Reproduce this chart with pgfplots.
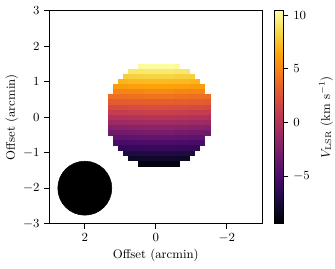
\documentclass[border=0pt]{standalone}
\usepackage{pgfplots}
\pgfplotsset{compat=1.18}
\pgfplotsset{colormap={inferno}{
 rgb255=(0,0,4) rgb255=(22,11,57) rgb255=(66,10,104) rgb255=(106,23,110)
 rgb255=(147,38,103) rgb255=(188,55,84) rgb255=(221,81,58) rgb255=(243,120,25)
 rgb255=(252,165,10) rgb255=(246,215,70) rgb255=(252,255,164)}}
\begin{document}
\begin{tikzpicture}
\begin{axis}[
 name=ax,
 scale only axis, width=2.13in, height=2.13in,
 xmin=-3, xmax=3, ymin=-3, ymax=3, x dir=reverse,
 xtick={-2,0,2}, ytick={-3,-2,-1,0,1,2,3},
 tick align=outside, xtick pos=bottom, ytick pos=left,
 major tick length=3.5pt,
 axis line style={black, line width=0.6pt},
 tick style={black, line width=0.6pt},
 tick label style={font=\fontsize{9}{11}\selectfont},
 label style={font=\fontsize{9}{11}\selectfont},
 xlabel={Offset (arcmin)}, ylabel={Offset (arcmin)},
 xlabel shift=-2pt, ylabel shift=-3pt,
 colorbar, colormap name=inferno,
 point meta min=-9.4, point meta max=10.4,
 colorbar style={
   width=0.095in,
   at={(parent axis.north east)}, anchor=north west, xshift=0in,
   ytick={-5,0,5,10},
   ytick pos=right, yticklabel pos=right, tick align=outside,
   major tick length=3.5pt,
   axis line style={black, line width=0.6pt},
   tick style={black, line width=0.6pt},
   tick label style={font=\fontsize{9}{11}\selectfont},
   ylabel={$V_{\mathrm{LSR}}$ (km s$^{-1}$)},
   ylabel style={font=\fontsize{9}{11}\selectfont},
 },
]
\addplot[scatter, only marks, mark=square*, mark size=1.75pt,
  mark options={line width=0.4pt},
  scatter/use mapped color={draw=mapped color, fill=mapped color},
  point meta=explicit] table[meta=v] {
x y v
0.419 1.433 10.2
0.275 1.433 10.3
0.131 1.433 10.3
-0.013 1.433 10.3
-0.157 1.433 10.3
-0.301 1.433 10.3
-0.445 1.433 10.3
-0.589 1.433 10.2
0.707 1.289 9.2
0.563 1.289 9.2
0.419 1.289 9.2
0.275 1.289 9.3
0.131 1.289 9.3
-0.013 1.289 9.3
-0.157 1.289 9.3
-0.301 1.289 9.3
-0.445 1.289 9.3
-0.589 1.289 9.2
-0.733 1.289 9.2
-0.877 1.289 9.2
0.851 1.145 8.1
0.707 1.145 8.2
0.563 1.145 8.2
0.419 1.145 8.2
0.275 1.145 8.3
0.131 1.145 8.3
-0.013 1.145 8.3
-0.157 1.145 8.3
-0.301 1.145 8.3
-0.445 1.145 8.3
-0.589 1.145 8.2
-0.733 1.145 8.2
-0.877 1.145 8.2
-1.021 1.145 8.1
0.995 1.001 7.1
0.851 1.001 7.1
0.707 1.001 7.2
0.563 1.001 7.2
0.419 1.001 7.2
0.275 1.001 7.3
0.131 1.001 7.3
-0.013 1.001 7.3
-0.157 1.001 7.3
-0.301 1.001 7.3
-0.445 1.001 7.3
-0.589 1.001 7.2
-0.733 1.001 7.2
-0.877 1.001 7.2
-1.021 1.001 7.1
-1.165 1.001 7.1
1.139 0.857 6.1
0.995 0.857 6.1
0.851 0.857 6.1
0.707 0.857 6.2
0.563 0.857 6.2
0.419 0.857 6.2
0.275 0.857 6.3
0.131 0.857 6.3
-0.013 0.857 6.3
-0.157 0.857 6.3
-0.301 0.857 6.3
-0.445 0.857 6.3
-0.589 0.857 6.2
-0.733 0.857 6.2
-0.877 0.857 6.2
-1.021 0.857 6.1
-1.165 0.857 6.1
-1.309 0.857 6.1
1.139 0.713 5.0
0.995 0.713 5.0
0.851 0.713 5.0
0.707 0.713 5.1
0.563 0.713 5.1
0.419 0.713 5.1
0.275 0.713 5.2
0.131 0.713 5.2
-0.013 0.713 5.2
-0.157 0.713 5.2
-0.301 0.713 5.2
-0.445 0.713 5.2
-0.589 0.713 5.1
-0.733 0.713 5.1
-0.877 0.713 5.1
-1.021 0.713 5.0
-1.165 0.713 5.0
-1.309 0.713 5.0
1.283 0.569 3.9
1.139 0.569 4.0
0.995 0.569 4.0
0.851 0.569 4.0
0.707 0.569 4.1
0.563 0.569 4.1
0.419 0.569 4.1
0.275 0.569 4.2
0.131 0.569 4.2
-0.013 0.569 4.2
-0.157 0.569 4.2
-0.301 0.569 4.2
-0.445 0.569 4.2
-0.589 0.569 4.1
-0.733 0.569 4.1
-0.877 0.569 4.1
-1.021 0.569 4.0
-1.165 0.569 4.0
-1.309 0.569 4.0
-1.453 0.569 3.9
1.283 0.425 2.9
1.139 0.425 3.0
0.995 0.425 3.0
0.851 0.425 3.0
0.707 0.425 3.1
0.563 0.425 3.1
0.419 0.425 3.1
0.275 0.425 3.2
0.131 0.425 3.2
-0.013 0.425 3.2
-0.157 0.425 3.2
-0.301 0.425 3.2
-0.445 0.425 3.2
-0.589 0.425 3.1
-0.733 0.425 3.1
-0.877 0.425 3.1
-1.021 0.425 3.0
-1.165 0.425 3.0
-1.309 0.425 3.0
-1.453 0.425 2.9
1.283 0.281 1.9
1.139 0.281 2.0
0.995 0.281 2.0
0.851 0.281 2.0
0.707 0.281 2.1
0.563 0.281 2.1
0.419 0.281 2.1
0.275 0.281 2.2
0.131 0.281 2.2
-0.013 0.281 2.2
-0.157 0.281 2.2
-0.301 0.281 2.2
-0.445 0.281 2.2
-0.589 0.281 2.1
-0.733 0.281 2.1
-0.877 0.281 2.1
-1.021 0.281 2.0
-1.165 0.281 2.0
-1.309 0.281 2.0
-1.453 0.281 1.9
1.283 0.137 0.9
1.139 0.137 1.0
0.995 0.137 1.0
0.851 0.137 1.0
0.707 0.137 1.1
0.563 0.137 1.1
0.419 0.137 1.1
0.275 0.137 1.2
0.131 0.137 1.2
-0.013 0.137 1.2
-0.157 0.137 1.2
-0.301 0.137 1.2
-0.445 0.137 1.2
-0.589 0.137 1.1
-0.733 0.137 1.1
-0.877 0.137 1.1
-1.021 0.137 1.0
-1.165 0.137 1.0
-1.309 0.137 1.0
-1.453 0.137 0.9
1.283 -0.007 -0.1
1.139 -0.007 0.0
0.995 -0.007 0.0
0.851 -0.007 0.0
0.707 -0.007 0.1
0.563 -0.007 0.1
0.419 -0.007 0.1
0.275 -0.007 0.2
0.131 -0.007 0.2
-0.013 -0.007 0.2
-0.157 -0.007 0.2
-0.301 -0.007 0.2
-0.445 -0.007 0.2
-0.589 -0.007 0.1
-0.733 -0.007 0.1
-0.877 -0.007 0.1
-1.021 -0.007 0.0
-1.165 -0.007 0.0
-1.309 -0.007 0.0
-1.453 -0.007 -0.1
1.283 -0.151 -1.1
1.139 -0.151 -1.0
0.995 -0.151 -1.0
0.851 -0.151 -1.0
0.707 -0.151 -0.9
0.563 -0.151 -0.9
0.419 -0.151 -0.9
0.275 -0.151 -0.8
0.131 -0.151 -0.8
-0.013 -0.151 -0.8
-0.157 -0.151 -0.8
-0.301 -0.151 -0.8
-0.445 -0.151 -0.8
-0.589 -0.151 -0.9
-0.733 -0.151 -0.9
-0.877 -0.151 -0.9
-1.021 -0.151 -1.0
-1.165 -0.151 -1.0
-1.309 -0.151 -1.0
-1.453 -0.151 -1.1
1.283 -0.295 -2.1
1.139 -0.295 -2.0
0.995 -0.295 -2.0
0.851 -0.295 -2.0
0.707 -0.295 -1.9
0.563 -0.295 -1.9
0.419 -0.295 -1.9
0.275 -0.295 -1.8
0.131 -0.295 -1.8
-0.013 -0.295 -1.8
-0.157 -0.295 -1.8
-0.301 -0.295 -1.8
-0.445 -0.295 -1.8
-0.589 -0.295 -1.9
-0.733 -0.295 -1.9
-0.877 -0.295 -1.9
-1.021 -0.295 -2.0
-1.165 -0.295 -2.0
-1.309 -0.295 -2.0
-1.453 -0.295 -2.1
1.283 -0.439 -3.1
1.139 -0.439 -3.0
0.995 -0.439 -3.0
0.851 -0.439 -3.0
0.707 -0.439 -2.9
0.563 -0.439 -2.9
0.419 -0.439 -2.9
0.275 -0.439 -2.8
0.131 -0.439 -2.8
-0.013 -0.439 -2.8
-0.157 -0.439 -2.8
-0.301 -0.439 -2.8
-0.445 -0.439 -2.8
-0.589 -0.439 -2.9
-0.733 -0.439 -2.9
-0.877 -0.439 -2.9
-1.021 -0.439 -3.0
-1.165 -0.439 -3.0
-1.309 -0.439 -3.0
-1.453 -0.439 -3.1
1.139 -0.583 -4.0
0.995 -0.583 -4.0
0.851 -0.583 -4.0
0.707 -0.583 -3.9
0.563 -0.583 -3.9
0.419 -0.583 -3.9
0.275 -0.583 -3.8
0.131 -0.583 -3.8
-0.013 -0.583 -3.8
-0.157 -0.583 -3.8
-0.301 -0.583 -3.8
-0.445 -0.583 -3.8
-0.589 -0.583 -3.9
-0.733 -0.583 -3.9
-0.877 -0.583 -3.9
-1.021 -0.583 -4.0
-1.165 -0.583 -4.0
-1.309 -0.583 -4.0
1.139 -0.727 -5.1
0.995 -0.727 -5.1
0.851 -0.727 -5.1
0.707 -0.727 -5.0
0.563 -0.727 -5.0
0.419 -0.727 -5.0
0.275 -0.727 -4.9
0.131 -0.727 -4.9
-0.013 -0.727 -4.9
-0.157 -0.727 -4.9
-0.301 -0.727 -4.9
-0.445 -0.727 -4.9
-0.589 -0.727 -5.0
-0.733 -0.727 -5.0
-0.877 -0.727 -5.0
-1.021 -0.727 -5.1
-1.165 -0.727 -5.1
-1.309 -0.727 -5.1
0.995 -0.871 -6.1
0.851 -0.871 -6.1
0.707 -0.871 -6.0
0.563 -0.871 -6.0
0.419 -0.871 -6.0
0.275 -0.871 -5.9
0.131 -0.871 -5.9
-0.013 -0.871 -5.9
-0.157 -0.871 -5.9
-0.301 -0.871 -5.9
-0.445 -0.871 -5.9
-0.589 -0.871 -6.0
-0.733 -0.871 -6.0
-0.877 -0.871 -6.0
-1.021 -0.871 -6.1
-1.165 -0.871 -6.1
0.851 -1.015 -7.1
0.707 -1.015 -7.0
0.563 -1.015 -7.0
0.419 -1.015 -7.0
0.275 -1.015 -6.9
0.131 -1.015 -6.9
-0.013 -1.015 -6.9
-0.157 -1.015 -6.9
-0.301 -1.015 -6.9
-0.445 -1.015 -6.9
-0.589 -1.015 -7.0
-0.733 -1.015 -7.0
-0.877 -1.015 -7.0
-1.021 -1.015 -7.1
0.707 -1.159 -8.0
0.563 -1.159 -8.0
0.419 -1.159 -8.0
0.275 -1.159 -7.9
0.131 -1.159 -7.9
-0.013 -1.159 -7.9
-0.157 -1.159 -7.9
-0.301 -1.159 -7.9
-0.445 -1.159 -7.9
-0.589 -1.159 -8.0
-0.733 -1.159 -8.0
-0.877 -1.159 -8.0
0.419 -1.303 -9.0
0.275 -1.303 -8.9
0.131 -1.303 -8.9
-0.013 -1.303 -8.9
-0.157 -1.303 -8.9
-0.301 -1.303 -8.9
-0.445 -1.303 -8.9
-0.589 -1.303 -9.0
};
\addplot[only marks, mark=*, mark size=19.5pt, mark options={fill=black, draw=none}] coordinates {(2,-2)};
\end{axis}
\pgfresetboundingbox
\path ([xshift=-0.493in, yshift=-0.447in]ax.south west) rectangle ([xshift=0.727in, yshift=0.107in]ax.north east);
\end{tikzpicture}
\end{document}
